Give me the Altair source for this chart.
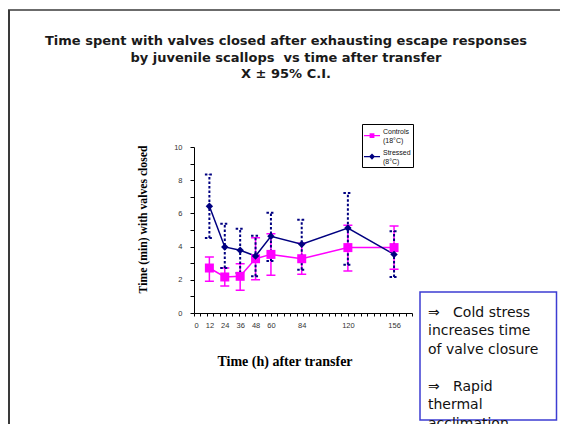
import altair as alt
import pandas as pd

# ---------------- data ----------------
hours = [12, 24, 36, 48, 60, 84, 120, 156]
ctrl_mean = [2.71, 2.17, 2.21, 3.27, 3.53, 3.27, 3.94, 3.94]
ctrl_lo = [1.91, 1.63, 1.37, 2.01, 2.27, 2.33, 2.53, 2.63]
ctrl_hi = [3.37, 2.71, 2.97, 4.54, 4.78, 4.20, 5.28, 5.24]
str_mean = [6.43, 3.98, 3.78, 3.43, 4.62, 4.14, 5.12, 3.53]
str_lo = [4.52, 2.71, 2.41, 2.21, 3.13, 2.61, 2.91, 2.17]
str_hi = [8.35, 5.38, 5.08, 4.66, 6.04, 5.62, 7.23, 4.92]

series_names = ["Controls", "Stressed"]
legend_lines = {"Controls": ["Controls", "(18°C)"], "Stressed": ["Stressed", "(8°C)"]}
x_tick_labels = [0, 12, 24, 36, 48, 60, 84, 120, 156]
x_minor_ticks = list(range(0, 171, 5))
y_ticks = list(range(0, 11))
title_lines = [
    "Time spent with valves closed after exhausting escape responses",
    "by juvenile scallops\u00a0 vs time after transfer",
    "X ± 95% C.I.",
]
note_part1 = ["⇒\u00a0\u00a0\u00a0Cold stress", "increases time", "of valve closure"]
note_part2 = ["⇒\u00a0\u00a0\u00a0Rapid", "thermal", "acclimation"]
x_title = "Time (h) after transfer"
y_title = "Time (min) with valves closed"

rows = []
for name, m, lo, hi in [("Controls", ctrl_mean, ctrl_lo, ctrl_hi),
                        ("Stressed", str_mean, str_lo, str_hi)]:
    for h, a, b, c in zip(hours, m, lo, hi):
        rows.append(dict(series=name, hours=h, mean=a, lo=b, hi=c))
df = pd.DataFrame(rows)

# ---------------- styles ----------------
COLORS = ["#ff00ff", "#000080"]
W, H = 218, 166
color_scale = alt.Scale(domain=series_names, range=COLORS)
x_scale = alt.Scale(domain=[0, 170], nice=False, zero=True)
y_scale = alt.Scale(domain=[0, 10], nice=False)

axis_ticks = alt.Axis(orient="bottom", values=x_minor_ticks, labels=False, tickSize=3, grid=False,
                      domainColor="black", tickColor="black", domainWidth=1,
                      title=x_title, titleFont="Liberation Serif", titleFontSize=14,
                      titleFontWeight="bold", titleColor="black",
                      titleX=90.5, titleY=48, titleAlign="center", titleBaseline="middle")
axis_labels = alt.Axis(orient="bottom", values=x_tick_labels, ticks=False, domain=False, grid=False,
                       labelFont="Liberation Sans", labelFontSize=7.5, labelColor="#333",
                       labelPadding=8, title=None)
y_axis = alt.Axis(values=y_ticks, labelExpr="datum.value % 2 == 0 ? datum.label : ''",
                  tickSize=4, grid=False, domainColor="black", tickColor="black",
                  labelFont="Liberation Sans", labelFontSize=7.5, labelColor="#333",
                  labelPadding=8, title=y_title, titleFont="Liberation Serif",
                  titleFontSize=11.7, titleFontWeight="bold", titleColor="black",
                  titleX=-52, titleY=72, titleAlign="center", titleBaseline="middle")

label_expr = "datum.value == '%s' ? '%s\\n%s' : '%s\\n%s'" % (
    series_names[0], legend_lines["Controls"][0], legend_lines["Controls"][1],
    legend_lines["Stressed"][0], legend_lines["Stressed"][1])

# legend symbols: a short line with the marker (filled paths only)
LEG_SHAPES = [
    "M-1,0.11H1V0.29H-1Z M-0.3,-0.1H0.3V0.5H-0.3Z",
    "M-1,0.11H1V0.29H-1Z M0,-0.18L0.38,0.2L0,0.58L-0.38,0.2Z",
]

legend = alt.Legend(
    title=None, orient="none", legendX=168, legendY=-23, padding=2,
    strokeColor="black", fillColor="white", symbolSize=256, symbolStrokeWidth=0,
    labelFont="Liberation Sans", labelFontSize=7, labelColor="#111", labelOffset=3,
    labelExpr=label_expr, labelBaseline="alphabetic", rowPadding=3,
)

base = alt.Chart(df)
col = alt.Color("series:N", scale=color_scale)

# legend-carrying layer (first, so its legend settings lead); its points sit
# outside the clipped plot area, so it draws nothing itself
leg = base.transform_calculate(hidden="datum.mean + 1000").mark_point(
    filled=True, opacity=1, clip=True).encode(
    x=alt.X("hours:Q", scale=x_scale, axis=None),
    y=alt.Y("hidden:Q", scale=y_scale, axis=y_axis),
    color=alt.Color("series:N", scale=color_scale, legend=legend),
    shape=alt.Shape("series:N", scale=alt.Scale(domain=series_names, range=LEG_SHAPES),
                    legend=legend),
)

def error_layers(name, dash, width, x_axis):
    sub = base.transform_filter(alt.datum.series == name)
    style = dict(strokeDash=dash, strokeWidth=width)
    bar = sub.mark_rule(**style).encode(
        x=alt.X("hours:Q", scale=x_scale, axis=x_axis),
        y=alt.Y("lo:Q", scale=y_scale, axis=y_axis), y2="hi:Q", color=col)
    hi = sub.mark_rule(xOffset=-4.5, x2Offset=4.5, **style).encode(
        x=alt.X("hours:Q", scale=x_scale, axis=None), x2="hours:Q",
        y=alt.Y("hi:Q", scale=y_scale, axis=y_axis), color=col)
    lo = sub.mark_rule(xOffset=-4.5, x2Offset=4.5, **style).encode(
        x=alt.X("hours:Q", scale=x_scale, axis=None), x2="hours:Q",
        y=alt.Y("lo:Q", scale=y_scale, axis=y_axis), color=col)
    return [bar, hi, lo]

err_c = error_layers(series_names[0], [1, 0], 1.5, axis_ticks)
err_s = error_layers(series_names[1], [2.5, 2], 2, None)

line = base.mark_line(strokeWidth=1.5).encode(
    x=alt.X("hours:Q", scale=x_scale, axis=axis_labels),
    y=alt.Y("mean:Q", scale=y_scale, axis=y_axis),
    color=col,
)
pts_c = base.transform_filter(alt.datum.series == series_names[0]).mark_point(
    filled=True, opacity=1, shape="square", size=81).encode(
    x=alt.X("hours:Q", scale=x_scale, axis=None),
    y=alt.Y("mean:Q", scale=y_scale, axis=y_axis),
    color=col,
)
pts_s = base.transform_filter(alt.datum.series == series_names[1]).mark_point(
    filled=True, opacity=1, shape="diamond", size=55).encode(
    x=alt.X("hours:Q", scale=x_scale, axis=None),
    y=alt.Y("mean:Q", scale=y_scale, axis=y_axis),
    color=col,
)

one = alt.Chart(pd.DataFrame({"k": [0]}))
frame_left = one.mark_rule(color="#3a3a3a", strokeWidth=2).encode(
    x=alt.value(-185), y=alt.value(-137), y2=alt.value(277))
frame_top = one.mark_rule(color="#3a3a3a", strokeWidth=1.5).encode(
    x=alt.value(-186), x2=alt.value(366), y=alt.value(-137))
box = one.mark_rect(fill="white", stroke="#3c3cd2", strokeWidth=1.5).encode(
    x=alt.value(226), x2=alt.value(362.5), y=alt.value(145), y2=alt.value(273))
title = alt.Chart(pd.DataFrame({"t": ["\n".join(title_lines)]})).mark_text(
    font="DejaVu Sans", fontSize=13, fontWeight="bold", color="#1a1a1a",
    align="center", baseline="top", lineBreak="\n", lineHeight=16.7,
).encode(text="t:N", x=alt.value(92), y=alt.value(-112))
note_style = dict(font="DejaVu Sans", fontSize=14, color="#111",
                  align="left", baseline="top", lineBreak="\n", lineHeight=18.8)
note1 = alt.Chart(pd.DataFrame({"t": ["\n".join(note_part1)]})).mark_text(**note_style).encode(
    text="t:N", x=alt.value(234), y=alt.value(158.5))
note2 = alt.Chart(pd.DataFrame({"t": ["\n".join(note_part2)]})).mark_text(**note_style).encode(
    text="t:N", x=alt.value(234), y=alt.value(158.5 + 4 * 18.8 - 1))

chart = alt.layer(
    leg, frame_left, frame_top, title, box, note1, note2,
    *err_c, *err_s, line, pts_c, pts_s,
).resolve_axis(x="independent").properties(
    width=W, height=H, autosize="none",
    padding={"left": 186, "top": 139, "right": 552 - 186 - W, "bottom": 416 - 139 - H},
).configure(
    style={"guide-label": {"lineBreak": "\n"}},
    view=alt.ViewConfig(strokeWidth=0),
)

chart.save("out.html", embed_options={"renderer": "svg", "actions": False})
